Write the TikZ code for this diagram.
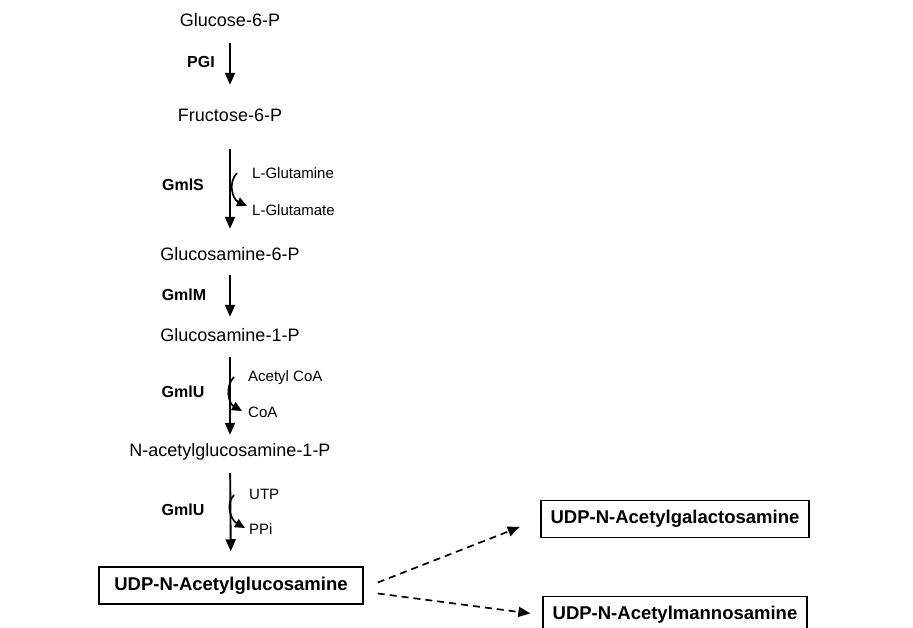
\documentclass[tikz,border=0pt]{standalone}
\usepackage{fontspec}
\setmainfont{Liberation Sans}
\usetikzlibrary{arrows.meta,calc}

\begin{document}
\begin{tikzpicture}[x=1pt, y=-1pt, >={Triangle[length=12pt,width=10pt]},
    met/.style={inner sep=0pt, text height=13pt, text depth=4pt, font=\fontsize{18}{20}\selectfont},
    enz/.style={inner sep=0pt, font=\bfseries\fontsize{16}{18}\selectfont},
    cof/.style={inner sep=0pt, anchor=west, font=\fontsize{15}{17}\selectfont},
    prod/.style={draw, line width=1.5pt, minimum height=37pt, inner sep=0pt, font=\bfseries\fontsize{18.5}{20}\selectfont},
    reac/.style={->, line width=1.9pt},
    side/.style={-{Triangle[length=10pt,width=9pt]}, line width=1.7pt},
    branch/.style={->, line width=1.7pt, dash pattern=on 7pt off 5pt}]

    \useasboundingbox (0,0) rectangle (913,628);

    % Metabolites
    \node[met] (g6p) at (230,22) {Glucose-6-P};
    \node[met] (f6p) at (230,117) {Fructose-6-P};
    \node[met] (gln6p) at (230,256) {Glucosamine-6-P};
    \node[met] (gln1p) at (230,337) {Glucosamine-1-P};
    \node[met] (nac1p) at (230,452) {N-acetylglucosamine-1-P};
    \node[prod, minimum width=264pt] (udp) at (231,585.5) {UDP-N-Acetylglucosamine};
    \node[prod, minimum width=268pt] (galnac) at (675,519) {UDP-N-Acetylgalactosamine};
    \node[prod, minimum width=264pt] (mannac) at (675,615) {UDP-N-Acetylmannosamine};

    % Enzymes
    \node[enz] (pgi) at (201,62) {PGI};
    \node[enz] (glms) at (183,185) {GmlS};
    \node[enz] (glmm) at (184,295) {GmlM};
    \node[enz] (glmu) at (183,392) {GmlU};
    \node[enz] (glmu2) at (183,510) {GmlU};

    % Co-substrates
    \node[cof] (gln) at (252,173) {L-Glutamine};
    \node[cof] (glu) at (252,210) {L-Glutamate};
    \node[cof] (accoa) at (248,378) {Acetyl CoA};
    \node[cof] (coa) at (248,412) {CoA};
    \node[cof] (utp) at (249,494) {UTP};
    \node[cof] (ppi) at (249,529) {PPi};

    % Main pathway
    \draw[reac, shorten <=12.5pt, shorten >=23.5pt] (g6p) -- (f6p);
    \draw[reac, shorten <=23.5pt, shorten >=18.5pt] (f6p) -- (gln6p);
    \draw[reac, shorten <=10.5pt, shorten >=11.5pt] (gln6p) -- (gln1p);
    \draw[reac, shorten <=11.5pt, shorten >=8.5pt] (gln1p) -- (nac1p);
    \draw[reac, shorten <=12.5pt, shorten >=15pt] (nac1p) -- (udp);

    % Side reactions
    \draw[side] ($(gln.west)+(-15,0)$) .. controls +(-9,9) and +(-15,-7) .. ($(glu.west)+(-5,-4)$);
    \draw[side] ($(accoa.west)+(-14,-1)$) .. controls +(-9,9) and +(-14,-8) .. ($(coa.west)+(-6,-1)$);
    \draw[side] ($(utp.west)+(-15,1)$) .. controls +(-9,9) and +(-14,-8) .. ($(ppi.west)+(-4,-1)$);

    % Branches
    \draw[branch, shorten >=22pt] ($(udp.east)+(14,-3)$) -- (galnac.west);
    \draw[branch, shorten >=12pt] ($(udp.east)+(14,8)$) -- (mannac.west);
\end{tikzpicture}
\end{document}
